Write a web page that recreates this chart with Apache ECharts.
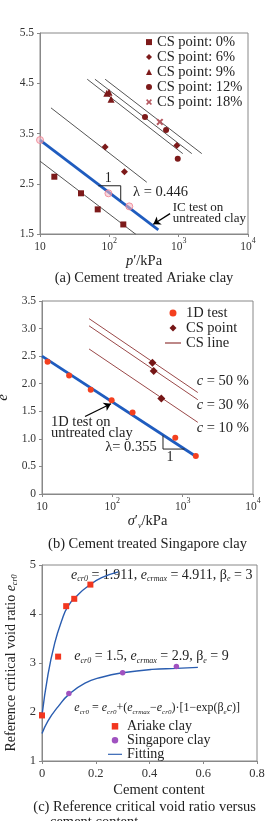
<!DOCTYPE html>
<html>
<head>
<meta charset="utf-8">
<script src="https://cdn.jsdelivr.net/npm/echarts@6/dist/echarts.min.js"></script>
<style>
html, body { margin: 0; padding: 0; background: #fff; }
#main { width: 265px; height: 821px; }
</style>
</head>
<body>
<div id="main"></div>
<script>
// ---- (a) cement treated Ariake clay ----
var cs0 = [[16.1, 2.64], [39, 2.31], [68, 1.99], [159, 1.69]];
var cs6 = [[87, 3.23], [165, 2.74], [940, 3.26]];
var cs9 = [[92, 4.30], [99, 4.32], [106, 4.18]];
var cs12 = [[327, 3.83], [658, 3.57], [970, 3.00]];
var cs18 = [[535, 3.73]];
var icTest = [[10, 3.37], [97, 2.31], [194, 2.05]];
var icLine = [[10, 3.37], [509, 1.58]];
var csLinesA = [
    [[10, 2.95], [243, 1.49]],
    [[14.4, 4.01], [347, 2.53]],
    [[48, 4.58], [1146, 3.10]],
    [[62, 4.58], [1545, 3.10]],
    [[87, 4.58], [2153, 3.10]]
];
var slopeA = [[69.4, 2.46], [146, 2.46], [146, 2.16]];
var arrowA = [[751, 1.906], [431, 1.694]];
var yTicksA = [1.5, 2.5, 3.5, 4.5, 5.5];

// ---- (b) cement treated Singapore clay ----
var test1D = [[12, 2.40], [24.3, 2.15], [49.3, 1.89], [97.8, 1.70], [194, 1.48], [785, 1.02], [1538, 0.69]];
var csPointB = [[372, 2.38], [387, 2.23], [497, 1.73]];
var csLinesB = [
    [[46.7, 3.18], [1641, 1.84]],
    [[46.7, 3.05], [1641, 1.71]],
    [[46.7, 2.63], [1641, 1.30]]
];
var udLine = [[10, 2.5], [1550, 0.68]];
var slopeB = [[525, 1.06], [525, 0.815], [1063, 0.815]];
var arrowB = [[40.9, 1.406], [95.6, 1.636]];

// ---- (c) reference critical void ratio vs cement content ----
var ariake = [[0, 1.93], [0.06, 3.13], [0.09, 4.16], [0.12, 4.31], [0.18, 4.60]];
var singapore = [[0.1, 2.38], [0.3, 2.80], [0.5, 2.93]];
var fitAriake = [[0, 1.93], [0.0224, 2.77], [0.0475, 3.41], [0.0725, 3.85], [0.097, 4.16],
    [0.135, 4.40], [0.172, 4.57], [0.222, 4.74], [0.284, 4.86]];
var fitSingapore = [[0, 1.56], [0.0224, 1.82], [0.06, 2.11], [0.1, 2.36], [0.16, 2.59],
    [0.222, 2.71], [0.3, 2.80], [0.409, 2.87], [0.5, 2.89], [0.58, 2.91]];

var FONT = 'Liberation Serif';
var GRAY = '#888';
var TXT = '#222';
var LINE_ICON = 'path://M0,0H16V1.3H0Z';
var SQUARE_ICON = 'path://M0,0H10V10H0Z';
var DIAMOND_ICON = 'path://M5,0L10,5L5,10L0,5Z';
var CIRCLE_ICON = 'path://M5,0A5,5,0,1,1,4.99,0Z';

var chart = echarts.init(document.getElementById('main'));

var supRich = {
    b: { fontSize: 11.5, fontFamily: FONT, color: '#333', verticalAlign: 'bottom', lineHeight: 16 },
    s: { fontSize: 8, fontFamily: FONT, color: '#333', verticalAlign: 'top', lineHeight: 16 }
};
// base text centred in the line, subscript pushed to the bottom of it
var subRich = function (size) {
    return {
        n: { fontSize: size, fontFamily: FONT, color: TXT, lineHeight: size + 2 },
        i: { fontSize: size, fontFamily: FONT, fontStyle: 'italic', color: TXT, lineHeight: size + 2 },
        sub: { fontSize: Math.round(size * 0.58), fontFamily: FONT, fontStyle: 'italic', color: TXT, verticalAlign: 'bottom' }
    };
};

function logX(gi, name, gap) {
    return {
        type: 'log', logBase: 10, gridIndex: gi, min: 10, max: 10000,
        name: name, nameLocation: 'middle', nameGap: gap,
        nameTextStyle: { fontSize: 14.5, fontFamily: FONT, color: TXT, rich: subRich(14.5) },
        axisLine: { lineStyle: { color: GRAY } },
        axisTick: { length: 3, lineStyle: { color: GRAY } },
        splitLine: { show: false },
        axisLabel: {
            margin: 3,
            formatter: function (v) {
                var p = Math.round(Math.log(v) / Math.LN10);
                return p === 1 ? '{b|10}' : '{b|10}{s|' + p + '}';
            },
            rich: supRich
        }
    };
}

function valY(gi, opts) {
    var ax = {
        type: 'value', gridIndex: gi,
        nameLocation: 'middle',
        nameTextStyle: { fontSize: 15, fontFamily: FONT, color: TXT, fontStyle: 'italic' },
        axisLine: { show: true, lineStyle: { color: GRAY } },
        axisTick: { show: true, length: 3, lineStyle: { color: GRAY } },
        splitLine: { show: false },
        axisLabel: { margin: 6, fontSize: 11.5, fontFamily: FONT, color: '#333' }
    };
    for (var k in opts) ax[k] = opts[k];
    return ax;
}

function seg(data, xi, color, width, name) {
    return {
        type: 'line', name: name, xAxisIndex: xi, yAxisIndex: xi, data: data,
        symbol: 'none', showSymbol: false, silent: true, z: 2,
        itemStyle: { color: color },
        lineStyle: { color: color, width: width }
    };
}

function dots(name, data, xi, symbol, size, color, extra) {
    var s = {
        type: 'scatter', name: name, xAxisIndex: xi, yAxisIndex: xi, data: data,
        symbol: symbol, symbolSize: size, z: 4,
        itemStyle: { color: color, opacity: 1 }
    };
    for (var k in extra) s[k] = extra[k];
    return s;
}

function arrow(data) {
    return {
        silent: true, symbol: ['none', 'arrow'], symbolSize: 7, animation: false,
        label: { show: false },
        lineStyle: { color: '#000', width: 1.3, type: 'solid' },
        data: [[{ coord: data[0] }, { coord: data[1] }]]
    };
}

var series = [];
// (a)
csLinesA.forEach(function (d) { series.push(seg(d, 0, '#555', 1)); });
series.push(seg(icLine, 0, '#1f5cbf', 2.8));
var triA = seg(slopeA, 0, '#222', 1);
triA.markLine = arrow(arrowA);
series.push(triA);
series.push(dots('CS point: 0%', cs0, 0, 'rect', 6, '#7d1a1a'));
series.push(dots('CS point: 6%', cs6, 0, 'diamond', 7, '#7d1a1a'));
series.push(dots('CS point: 9%', cs9, 0, 'triangle', 7, '#7d1a1a'));
series.push(dots('CS point: 12%', cs12, 0, 'circle', 6, '#7d1a1a'));
series.push(dots('CS point: 18%', cs18, 0,
    'path://M0,2L2,0L5,3L8,0L10,2L7,5L10,8L8,10L5,7L2,10L0,8L3,5Z', 7, '#b5575f'));
series.push(dots('IC test', icTest, 0, 'circle', 7, 'rgba(250,185,195,0.7)',
    { itemStyle: { color: 'rgba(250,185,195,0.7)', borderColor: '#ee7f8f', borderWidth: 1 } }));
// (b)
csLinesB.forEach(function (d) { series.push(seg(d, 1, '#9a4848', 1, 'CS line')); });
series.push(seg(udLine, 1, '#1f5cbf', 2.8));
var triB = seg(slopeB, 1, '#222', 1);
triB.markLine = arrow(arrowB);
series.push(triB);
series.push(dots('1D test', test1D, 1, 'circle', 6, '#f4401f'));
series.push(dots('CS point', csPointB, 1, 'diamond', 8, '#761616'));
// (c)
var fa = seg(fitAriake, 2, '#2a5db0', 1.4, 'Fitting'); fa.smooth = true;
var fs = seg(fitSingapore, 2, '#2a5db0', 1.4, 'Fitting'); fs.smooth = true;
series.push(fa, fs);
series.push(dots('Ariake clay', ariake, 2, 'rect', 6, '#f2361f'));
series.push(dots('Singapore clay', singapore, 2, 'circle', 5.5, '#a052c0'));

function txt(x, y, text, size, opts) {
    var st = { text: text, fontSize: size, fontFamily: FONT, fill: TXT, align: 'left', verticalAlign: 'middle' };
    for (var k in opts) st[k] = opts[k];
    return { type: 'text', x: x, y: y, silent: true, style: st };
}

function legend(opts) {
    var l = { orient: 'vertical', padding: 0, itemGap: 0, symbolKeepAspect: true,
        textStyle: { fontFamily: FONT, color: TXT } };
    for (var k in opts) {
        if (k === 'textStyle') { for (var t in opts[k]) l.textStyle[t] = opts[k][t]; }
        else l[k] = opts[k];
    }
    return l;
}

function grid(left, top, width, height) {
    return {
        left: left, top: top, width: width, height: height,
        outerBoundsMode: 'none', containLabel: false,
        show: true, borderColor: GRAY, borderWidth: 1
    };
}

chart.setOption({
    animation: false,
    grid: [
        grid(40, 33, 208, 201),
        grid(42, 301, 211, 193),
        grid(42, 565, 215, 196)
    ],
    xAxis: [
        logX(0, '{i|p}{n|\u2032/kPa}', 16),
        logX(1, '{i|\u03c3}{n|\u2032}{sub|v}{n|/kPa}', 17),
        {
            type: 'value', gridIndex: 2, min: 0, max: 0.8, interval: 0.2,
            name: 'Cement content', nameLocation: 'middle', nameGap: 22,
            nameTextStyle: { fontSize: 14.5, fontFamily: FONT, color: TXT, padding: [0, 0, 0, 19] },
            axisLine: { lineStyle: { color: GRAY } },
            axisTick: { length: 3, lineStyle: { color: GRAY } },
            splitLine: { show: false },
            axisLabel: {
                margin: 6, fontSize: 12.5, fontFamily: FONT, color: '#333',
                formatter: function (v) { return v === 0 ? '0' : v.toFixed(1); }
            }
        }
    ],
    yAxis: [
        valY(0, {
            min: 1.5, max: 5.5, name: 'e', nameGap: 36,
            axisTick: { show: true, length: 3, lineStyle: { color: GRAY }, customValues: yTicksA },
            axisLabel: {
                margin: 6, fontSize: 11.5, fontFamily: FONT, color: '#333', customValues: yTicksA,
                formatter: function (v) { return v.toFixed(1); }
            }
        }),
        valY(1, {
            min: 0, max: 3.5, interval: 0.5, name: 'e', nameGap: 30,
            axisLabel: {
                margin: 6, fontSize: 11.5, fontFamily: FONT, color: '#333',
                formatter: function (v) { return v === 0 ? '0' : v.toFixed(1); }
            }
        }),
        valY(2, {
            min: 1, max: 5, interval: 1,
            name: 'Reference critical void ratio {i|e}{sub|cr0}', nameGap: 22,
            nameTextStyle: { fontSize: 14, fontFamily: FONT, color: TXT, rich: subRich(14) },
            axisLabel: { margin: 6, fontSize: 12.5, fontFamily: FONT, color: '#333' }
        })
    ],
    legend: [
        legend({
            left: 146, top: 34.6, itemWidth: 6, itemHeight: 6,
            data: ['CS point: 0%', 'CS point: 6%', 'CS point: 9%', 'CS point: 12%', 'CS point: 18%'],
            textStyle: { fontSize: 14.5, lineHeight: 14.2 }
        }),
        legend({
            left: 165, top: 305.5, itemWidth: 16, itemHeight: 7,
            data: [{ name: '1D test', icon: CIRCLE_ICON }, { name: 'CS point', icon: DIAMOND_ICON },
                { name: 'CS line', icon: LINE_ICON }],
            textStyle: { fontSize: 14.5, lineHeight: 14.5 }
        }),
        legend({
            left: 108, top: 719.3, itemWidth: 14, itemHeight: 6.5,
            data: [{ name: 'Ariake clay', icon: SQUARE_ICON }, { name: 'Singapore clay', icon: CIRCLE_ICON },
                { name: 'Fitting', icon: LINE_ICON }],
            textStyle: { fontSize: 14, lineHeight: 11.4 }
        })
    ],
    graphic: [
        // (a)
        txt(108.3, 178.3, '1', 14, { align: 'center' }),
        txt(133, 191.7, '\u03bb = 0.446', 14.5),
        txt(172.7, 212.8, 'IC test on\nuntreated clay', 13, { lineHeight: 11 }),
        txt(144, 278, '(a) Cement treated Ariake clay', 14.5, { align: 'center' }),
        // (b)
        txt(51, 427.5, '1D test on\nuntreated clay', 14.5, { lineHeight: 11.6 }),
        txt(156.7, 446.7, '\u03bb= 0.355', 14.5, { align: 'right' }),
        txt(170, 457.5, '1', 14, { align: 'center' }),
        txt(196.7, 381, '{i|c}{n| = 50 %}', 14.5, { rich: subRich(14.5) }),
        txt(196.7, 405, '{i|c}{n| = 30 %}', 14.5, { rich: subRich(14.5) }),
        txt(196.7, 427.7, '{i|c}{n| = 10 %}', 14.5, { rich: subRich(14.5) }),
        txt(147.5, 544, '(b) Cement treated Singapore clay', 14.5, { align: 'center' }),
        // (c)
        txt(71, 575, '{i|e}{sub|cr0}{n| = 1.911, }{i|e}{sub|crmax}{n| = 4.911, }{n|\u03b2}{sub|e}{n| = 3}', 14, { rich: subRich(14) }),
        txt(74.3, 656.7, '{i|e}{sub|cr0}{n| = 1.5, }{i|e}{sub|crmax}{n| = 2.9, }{n|\u03b2}{sub|e}{n| = 9}', 14, { rich: subRich(14) }),
        txt(74.3, 708.3, '{i|e}{sub|cr0}{n| = }{i|e}{sub|cr0}{n|+(}{i|e}{sub|crmax}{n|\u2212}{i|e}{sub|cr0}{n|)\u00b7[1\u2212exp(\u03b2}{sub|e}{i|c}{n|)]}', 12, { rich: subRich(12) }),
        txt(33.3, 806.7, '(c) Reference critical void ratio versus', 14.5),
        txt(50, 822, 'cement content', 14.5)
    ],
    series: series
});
</script>
</body>
</html>
